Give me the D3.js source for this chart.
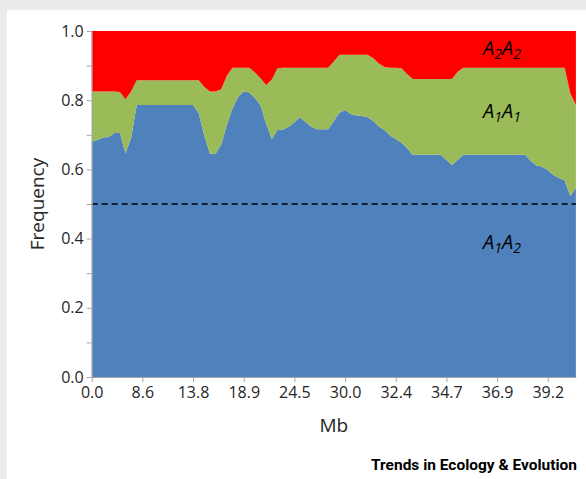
<!DOCTYPE html>
<html>
<head>
<meta charset="utf-8">
<script src="https://cdn.jsdelivr.net/npm/d3@7"></script>
<style>
	html, body { margin: 0; padding: 0; background: #ebebee; }
	svg { display: block; }
	.axis text { font-family: "Open Sans", sans-serif; font-size: 16px; fill: #262626; }
	.axis path, .axis line { stroke: #a6a6a6; }
</style>
</head>
<body>
<div id="chart"></div>
<script>
// genotype frequencies along the chromosome, one value per window
var a1a2 = [
	0.680, 0.685, 0.692, 0.694, 0.705, 0.705, 0.647, 0.691, 0.786,
	0.786, 0.786, 0.786, 0.786, 0.786, 0.786, 0.786, 0.786, 0.786, 0.786,
	0.763, 0.697, 0.645, 0.645, 0.671, 0.728, 0.776, 0.809, 0.825, 0.822,
	0.806, 0.785, 0.731, 0.688, 0.714, 0.715, 0.723, 0.736, 0.751, 0.737,
	0.723, 0.716, 0.716, 0.716, 0.740, 0.764, 0.772, 0.760, 0.756, 0.754,
	0.751, 0.740, 0.724, 0.714, 0.698, 0.688, 0.678, 0.662, 0.642,
	0.642, 0.642, 0.642, 0.642, 0.642,
	0.627, 0.613, 0.627, 0.642,
	0.642, 0.642, 0.642, 0.642, 0.642, 0.642, 0.642, 0.642, 0.642, 0.642, 0.642,
	0.624, 0.611, 0.608, 0.598, 0.584, 0.575, 0.569, 0.523, 0.546
];

var a1a1 = [
	0.145, 0.140, 0.133, 0.131, 0.120, 0.119, 0.156, 0.134, 0.072,
	0.072, 0.072, 0.072, 0.072, 0.072, 0.072, 0.072, 0.072, 0.072, 0.072,
	0.095, 0.141, 0.180, 0.180, 0.161, 0.143, 0.118, 0.085, 0.069, 0.072,
	0.074, 0.078, 0.113, 0.172, 0.178, 0.179, 0.171, 0.158, 0.143, 0.157,
	0.171, 0.178, 0.178, 0.178, 0.172, 0.167, 0.159, 0.171, 0.175, 0.177,
	0.180, 0.181, 0.182, 0.182, 0.196, 0.206, 0.214, 0.214, 0.219,
	0.219, 0.219, 0.219, 0.219, 0.219,
	0.234, 0.248, 0.255, 0.252,
	0.252, 0.252, 0.252, 0.252, 0.252, 0.252, 0.252, 0.252, 0.252, 0.252, 0.252,
	0.270, 0.283, 0.286, 0.296, 0.310, 0.319, 0.325, 0.297, 0.240
];

var a2a2 = [
	0.175, 0.175, 0.175, 0.175, 0.175, 0.176, 0.197, 0.175, 0.142,
	0.142, 0.142, 0.142, 0.142, 0.142, 0.142, 0.142, 0.142, 0.142, 0.142,
	0.142, 0.162, 0.175, 0.175, 0.168, 0.129, 0.106, 0.106, 0.106, 0.106,
	0.120, 0.137, 0.156, 0.140, 0.108, 0.106, 0.106, 0.106, 0.106, 0.106,
	0.106, 0.106, 0.106, 0.106, 0.088, 0.069, 0.069, 0.069, 0.069, 0.069,
	0.069, 0.079, 0.094, 0.104, 0.106, 0.106, 0.108, 0.124, 0.139,
	0.139, 0.139, 0.139, 0.139, 0.139,
	0.139, 0.139, 0.118, 0.106,
	0.106, 0.106, 0.106, 0.106, 0.106, 0.106, 0.106, 0.106, 0.106, 0.106, 0.106,
	0.106, 0.106, 0.106, 0.106, 0.106, 0.106, 0.106, 0.180, 0.214
];

// Mb label shown under every 9th window
var xTickLabels = ['0.0', '8.6', '13.8', '18.9', '24.5', '30.0', '32.4', '34.7', '36.9', '39.2'];
var labelEvery = 9;

var genotypes = [
	{ key: 'a1a2', color: '#4f81bd', sub: ['1', '2'], labelAt: 0.37 },
	{ key: 'a1a1', color: '#9bbb59', sub: ['1', '1'], labelAt: 0.748 },
	{ key: 'a2a2', color: '#ff0000', sub: ['2', '2'], labelAt: 0.931 }
];

var width = 586, height = 479;
var plot = { left: 91.7, right: 575.9, top: 31, bottom: 377 };

var rows = a1a2.map(function(d, i) {
	return { i: i, a1a2: d, a1a1: a1a1[i], a2a2: a2a2[i] };
});

var svg = d3.select('#chart').append('svg')
	.attr('width', width)
	.attr('height', height);

// white card on the grey page
svg.append('rect')
	.attr('x', 7)
	.attr('y', 10)
	.attr('width', width - 7)
	.attr('height', height - 10)
	.attr('fill', '#fff');

var x = d3.scaleLinear()
	.domain([0, rows.length - 1])
	.range([plot.left, plot.right]);

var y = d3.scaleLinear()
	.domain([0, 1])
	.range([plot.bottom, plot.top]);

var series = d3.stack()
	.keys(genotypes.map(function(g) { return g.key }))(rows);

var area = d3.area()
	.x(function(d) { return x(d.data.i) })
	.y0(function(d) { return y(d[0]) })
	.y1(function(d) { return y(d[1]) });

svg.append('g')
	.selectAll('path')
	.data(series)
	.enter()
	.append('path')
	.attr('d', area)
	.attr('fill', function(d, i) { return genotypes[i].color });

// 0.5 reference
svg.append('line')
	.attr('x1', x(0))
	.attr('x2', x(rows.length - 1))
	.attr('y1', y(0.5))
	.attr('y2', y(0.5))
	.attr('stroke', '#000')
	.attr('stroke-width', 1.5)
	.attr('stroke-dasharray', '6,4');

// genotype labels, A with italic subscripts
var labels = svg.append('g')
	.selectAll('text')
	.data(genotypes)
	.enter()
	.append('text')
	.attr('x', 502)
	.attr('y', function(d) { return y(d.labelAt) })
	.attr('text-anchor', 'middle')
	.style('font-family', '"Open Sans", sans-serif')
	.style('font-style', 'italic')
	.style('font-size', '20px')
	.attr('fill', '#000');

labels.each(function(d) {
	var t = d3.select(this);
	t.append('tspan').text('A');
	t.append('tspan').attr('dy', 4).style('font-size', '14px').text(d.sub[0]);
	t.append('tspan').attr('dy', -4).text('A');
	t.append('tspan').attr('dy', 4).style('font-size', '14px').text(d.sub[1]);
});

var yAxis = d3.axisLeft(y)
	.tickValues(d3.range(0, 11).map(function(k) { return k / 10 }))
	.tickFormat(function(d, i) { return i % 2 ? '' : d3.format('.1f')(d) })
	.tickSize(5)
	.tickSizeOuter(0)
	.tickPadding(3);

svg.append('g')
	.attr('class', 'axis')
	.attr('transform', 'translate(' + plot.left + ',0)')
	.call(yAxis);

var xAxis = d3.axisBottom(x)
	.tickValues(xTickLabels.map(function(d, i) { return i * labelEvery }))
	.tickFormat(function(d, i) { return xTickLabels[i] })
	.tickSize(5)
	.tickSizeOuter(0)
	.tickPadding(5);

svg.append('g')
	.attr('class', 'axis')
	.attr('transform', 'translate(0,' + plot.bottom + ')')
	.call(xAxis);

svg.append('text')
	.attr('transform', 'translate(44,' + ((plot.top + plot.bottom) / 2) + ') rotate(-90)')
	.attr('text-anchor', 'middle')
	.style('font-family', '"Open Sans", sans-serif')
	.style('font-size', '19px')
	.attr('fill', '#262626')
	.text('Frequency');

svg.append('text')
	.attr('x', (plot.left + plot.right) / 2)
	.attr('y', 432)
	.attr('text-anchor', 'middle')
	.style('font-family', '"Open Sans", sans-serif')
	.style('font-size', '19px')
	.attr('fill', '#262626')
	.text('Mb');

svg.append('text')
	.attr('x', 577)
	.attr('y', 470)
	.attr('text-anchor', 'end')
	.attr('textLength', 206)
	.attr('lengthAdjust', 'spacingAndGlyphs')
	.style('font-family', 'Roboto, sans-serif')
	.style('font-weight', 700)
	.style('font-size', '14px')
	.attr('fill', '#000')
	.text('Trends in Ecology & Evolution');
</script>
</body>
</html>
